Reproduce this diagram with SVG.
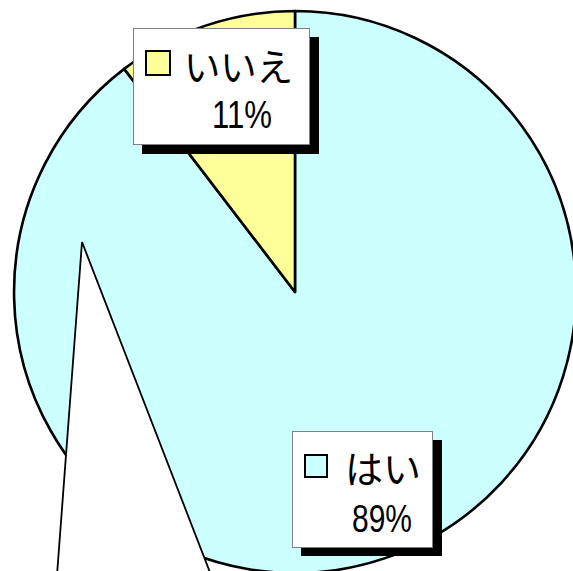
<svg xmlns="http://www.w3.org/2000/svg" width="573" height="571" viewBox="0 0 573 571">
<style>
.slice{stroke:#000;stroke-width:2.6;stroke-linejoin:round}
.box{fill:#fff;stroke:#808080;stroke-width:1}
.shadow{fill:#000}
.key{stroke:#000;stroke-width:2}
.jp{font-family:"Noto Sans CJK JP","Liberation Sans",sans-serif;font-size:38px;fill:#000}
.pct{font-family:"Liberation Sans",Arial,sans-serif;font-size:38px;fill:#000}
</style>
<rect width="573" height="571" fill="#fff"/>
<g id="slice-hai">
<path class="slice" fill="#CCFFFF" d="M295,292 L295,11 A281,281 0 1 1 124.2,68.9 Z"/>
</g>
<g id="slice-iie">
<path class="slice" fill="#FFFF99" d="M295,292 L124.2,68.9 A281,281 0 0 1 295,11 Z"/>
</g>
<g id="connectors">
<polygon points="82,242 57,575 211,575" fill="#fff" stroke="#000" stroke-width="1.8" stroke-linejoin="miter"/>
</g>
<g id="label-iie">
<rect class="shadow" x="142" y="37" width="177" height="117"/>
<rect class="box" x="133.5" y="28.5" width="176" height="116"/>
<rect class="key" fill="#FFFF99" x="146" y="51" width="24" height="24"/>
<text class="jp" x="184" y="81" textLength="109" lengthAdjust="spacingAndGlyphs">いいえ</text>
<text class="pct" x="212" y="128" textLength="60" lengthAdjust="spacingAndGlyphs">11%</text>
</g>
<g id="label-hai">
<rect class="shadow" x="301" y="440" width="141" height="116"/>
<rect class="box" x="292.5" y="431.5" width="140" height="116"/>
<rect class="key" fill="#CCFFFF" x="305" y="455" width="22" height="22"/>
<text class="jp" x="345" y="483">はい</text>
<text class="pct" x="352" y="532" textLength="60" lengthAdjust="spacingAndGlyphs">89%</text>
</g>
</svg>
